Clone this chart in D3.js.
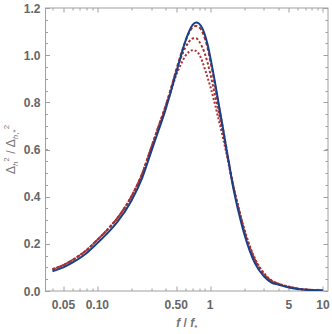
<!DOCTYPE html>
<html>
<head>
<meta charset="utf-8">
<script src="https://cdn.jsdelivr.net/npm/d3@7"></script>
<style>
  body { margin: 0; background: #fff; }
  text { font-family: "Liberation Sans", Arial, sans-serif; }
</style>
</head>
<body>
<div id="chart-area"></div>
<script>
// frequency grid f/f*
var freq = [0.04, 0.05, 0.06, 0.08, 0.1, 0.12, 0.15, 0.2, 0.25, 0.3, 0.35, 0.4, 0.45, 0.5, 0.55,
            0.6, 0.65, 0.7, 0.75, 0.8, 0.85, 0.9, 0.95, 1.0, 1.1, 1.2, 1.3, 1.45, 1.6, 1.8,
            2.0, 2.5, 3.0, 3.5, 4, 5, 6, 7, 8.5, 10];

var solidVals = [0.084, 0.100, 0.120, 0.160, 0.203, 0.240, 0.292, 0.382, 0.480, 0.590, 0.683, 0.765, 0.848, 0.925, 0.995,
                 1.056, 1.100, 1.128, 1.138, 1.133, 1.115, 1.085, 1.045, 0.995, 0.890, 0.785, 0.690, 0.556, 0.440, 0.330,
                 0.245, 0.117, 0.062, 0.036, 0.027, 0.015, 0.008, 0.005, 0.003, 0.002];

var dash1Vals = [0.092, 0.110, 0.131, 0.173, 0.217, 0.255, 0.308, 0.400, 0.498, 0.607, 0.700, 0.780, 0.860, 0.937, 1.002,
                 1.055, 1.095, 1.118, 1.124, 1.118, 1.100, 1.070, 1.030, 0.980, 0.878, 0.778, 0.688, 0.560, 0.448, 0.340,
                 0.256, 0.128, 0.070, 0.042, 0.030, 0.017, 0.010, 0.006, 0.004, 0.002];

var dash2Vals = [0.092, 0.110, 0.131, 0.173, 0.217, 0.255, 0.308, 0.400, 0.498, 0.607, 0.700, 0.780, 0.857, 0.932, 0.988,
                 1.030, 1.057, 1.071, 1.072, 1.058, 1.035, 1.005, 0.968, 0.925, 0.835, 0.750, 0.670, 0.555, 0.450, 0.345,
                 0.262, 0.133, 0.073, 0.044, 0.031, 0.018, 0.010, 0.006, 0.004, 0.002];

var dash3Vals = [0.092, 0.110, 0.131, 0.173, 0.217, 0.255, 0.308, 0.400, 0.498, 0.605, 0.695, 0.773, 0.848, 0.915, 0.960,
                 0.995, 1.014, 1.021, 1.018, 1.003, 0.975, 0.940, 0.905, 0.870, 0.795, 0.720, 0.650, 0.545, 0.448, 0.348,
                 0.266, 0.137, 0.076, 0.045, 0.032, 0.018, 0.010, 0.006, 0.004, 0.002];

var xTickVals = [0.05, 0.1, 0.5, 1, 5, 10];
var xTickLabels = ["0.05", "0.10", "0.50", "1", "5", "10"];
var xMinorVals = [0.04, 0.06, 0.07, 0.08, 0.09, 0.2, 0.3, 0.4, 0.6, 0.7, 0.8, 0.9, 2, 3, 4, 6, 7, 8, 9];
var yTickVals = [0, 0.2, 0.4, 0.6, 0.8, 1.0, 1.2];
var yMinorVals = d3.range(0, 1.2001, 0.05);

var margin = {left:45.5, right:4, top:8, bottom:43};
var width = 332 - margin.left - margin.right,
    height = 334 - margin.top - margin.bottom;

var svg = d3.select("#chart-area")
  .append("svg")
    .attr("width", 332)
    .attr("height", 334);

var g = svg.append("g")
    .attr("transform", "translate(" + margin.left + "," + margin.top + ")");

var x = d3.scaleLog()
  .domain([0.0347, 11.1])
  .range([0, width]);

var y = d3.scaleLinear()
  .domain([0, 1.2])
  .range([height, 0]);

var frameColor = "#a0a0a0";

// frame
g.append("rect")
  .attr("x", 0).attr("y", 0)
  .attr("width", width).attr("height", height)
  .attr("fill", "none")
  .attr("stroke", frameColor)
  .attr("stroke-width", 1);

// ticks (inward, all four sides)
function xTicks(vals, len) {
  vals.forEach(function(v) {
    var px = Math.round(x(v)) + 0.5;
    g.append("line").attr("x1", px).attr("x2", px).attr("y1", height).attr("y2", height - len)
      .attr("stroke", frameColor);
    g.append("line").attr("x1", px).attr("x2", px).attr("y1", 0).attr("y2", len)
      .attr("stroke", frameColor);
  });
}
function yTicks(vals, len) {
  vals.forEach(function(v) {
    var py = Math.round(y(v)) + 0.5;
    g.append("line").attr("x1", 0).attr("x2", len).attr("y1", py).attr("y2", py)
      .attr("stroke", frameColor);
    g.append("line").attr("x1", width).attr("x2", width - len).attr("y1", py).attr("y2", py)
      .attr("stroke", frameColor);
  });
}
xTicks(xMinorVals, 2.5);
xTicks(xTickVals, 4.5);
yTicks(yMinorVals, 2.5);
yTicks(yTickVals, 4.5);

// tick labels
g.selectAll(".xlab")
  .data(xTickVals)
  .enter()
  .append("text")
    .attr("x", function(d){ return x(d); })
    .attr("y", height + 18)
    .attr("text-anchor", "middle")
    .attr("font-size", "12px")
    .attr("font-weight", "bold")
    .attr("fill", "#666")
    .text(function(d, i){ return xTickLabels[i]; });

g.selectAll(".ylab")
  .data(yTickVals)
  .enter()
  .append("text")
    .attr("x", -5)
    .attr("y", function(d){ return y(d) + 4.5; })
    .attr("text-anchor", "end")
    .attr("font-size", "12px")
    .attr("font-weight", "bold")
    .attr("fill", "#666")
    .text(function(d){ return d.toFixed(1); });

// axis titles
var xTitle = svg.append("text")
  .attr("x", margin.left + width / 2)
  .attr("y", 327)
  .attr("text-anchor", "middle")
  .attr("font-size", "12px")
  .attr("font-weight", "bold")
  .attr("fill", "#777");
xTitle.append("tspan").attr("font-style", "italic").text("f");
xTitle.append("tspan").text(" / ");
xTitle.append("tspan").attr("font-style", "italic").text("f");
xTitle.append("tspan").attr("font-size", "8px").attr("dy", 3).text("*");

var yTitle = svg.append("text")
  .attr("transform", "translate(15," + (margin.top + height / 2) + ") rotate(-90)")
  .attr("text-anchor", "middle")
  .attr("font-size", "12px")
  .attr("fill", "#777");
yTitle.append("tspan").text("\u0394");
yTitle.append("tspan").attr("font-size", "8px").attr("font-style", "italic").attr("dy", 3).text("h");
yTitle.append("tspan").attr("font-size", "8px").attr("dy", -9).text("2");
yTitle.append("tspan").attr("dy", 6).text(" / \u0394");
yTitle.append("tspan").attr("font-size", "8px").attr("font-style", "italic").attr("dy", 3).text("h");
yTitle.append("tspan").attr("font-size", "8px").text(",*");
yTitle.append("tspan").attr("font-size", "8px").attr("dy", -9).text("2");

// curves
var line = d3.line()
  .x(function(d){ return x(d[0]); })
  .y(function(d){ return y(d[1]); })
  .curve(d3.curveMonotoneX);

function series(vals) {
  return freq.map(function(f, i){ return [f, vals[i]]; });
}

g.append("clipPath").attr("id", "plotclip")
  .append("rect").attr("width", width).attr("height", height);

var curves = g.append("g").attr("clip-path", "url(#plotclip)");

var red = "#a8302f";
curves.append("path").datum(series(dash3Vals))
  .attr("d", line).attr("fill", "none")
  .attr("stroke", red).attr("stroke-width", 2).attr("stroke-dasharray", "2,2");
curves.append("path").datum(series(dash2Vals))
  .attr("d", line).attr("fill", "none")
  .attr("stroke", red).attr("stroke-width", 2).attr("stroke-dasharray", "2.5,2");
curves.append("path").datum(series(dash1Vals))
  .attr("d", line).attr("fill", "none")
  .attr("stroke", red).attr("stroke-width", 2).attr("stroke-dasharray", "3.5,2");
curves.append("path").datum(series(solidVals))
  .attr("d", line).attr("fill", "none")
  .attr("stroke", "#1c4088").attr("stroke-width", 2);
</script>
</body>
</html>
